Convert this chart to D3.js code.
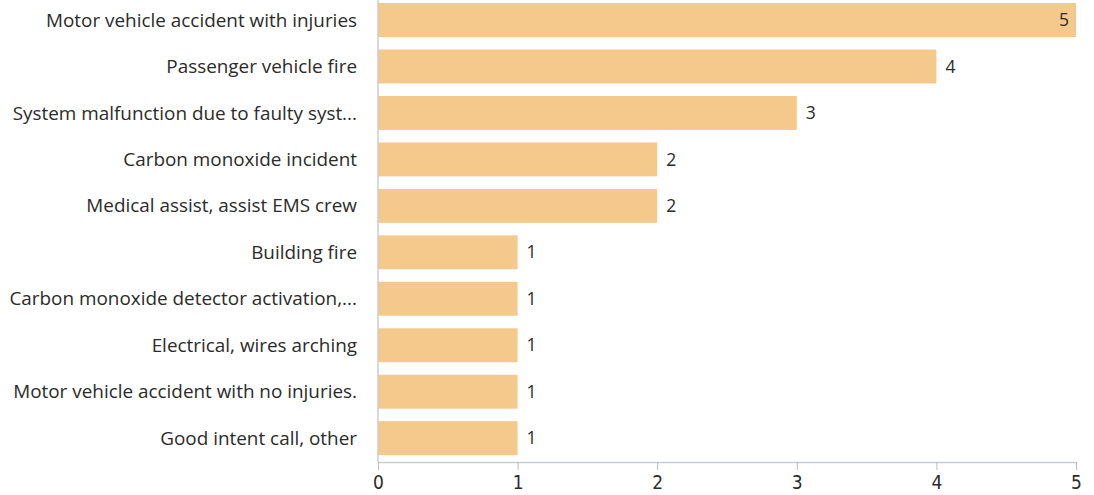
<!DOCTYPE html>
<html><head><meta charset="utf-8">
<script src="https://cdn.jsdelivr.net/npm/d3@7"></script>
<style>body{margin:0;background:#fff;} svg{display:block;}</style>
</head><body>
<svg id="c" width="1094" height="495"></svg>
<script>
const categories = ["Motor vehicle accident with injuries","Passenger vehicle fire","System malfunction due to faulty syst...","Carbon monoxide incident","Medical assist, assist EMS crew","Building fire","Carbon monoxide detector activation,...","Electrical, wires arching","Motor vehicle accident with no injuries.","Good intent call, other"];
const values = [5,4,3,2,2,1,1,1,1,1];
const xTicks = [0,1,2,3,4,5];

const svg = d3.select("#c");
const x = d3.scaleLinear().domain([0,5]).range([378,1076]);
const y = d3.scaleBand().domain(categories).range([-3.2,461.4]).paddingInner(0.27).paddingOuter(0.135);

svg.selectAll("rect.bar").data(values).join("rect")
  .attr("x", x(0)).attr("y", (d,i)=>y(categories[i]))
  .attr("width", d=>x(d)-x(0)).attr("height", y.bandwidth())
  .attr("fill","#f5c88b");

svg.append("line").attr("x1",x(0)).attr("x2",x(0)).attr("y1",0).attr("y2",462)
  .attr("stroke","#c8ccd4").attr("stroke-width",1.5);

svg.selectAll("text.cat").data(categories).join("text")
  .attr("x",357).attr("y",d=>y(d)+y.bandwidth()/2).attr("dy","0.35em")
  .attr("text-anchor","end").attr("font-family","Open Sans").attr("font-size",18.9)
  .attr("fill","#2b2b2b").text(d=>d);

svg.selectAll("text.val").data(values).join("text")
  .attr("x",(d,i)=> d===5 ? x(d)-7 : x(d)+9)
  .attr("y",(d,i)=>y(categories[i])+y.bandwidth()/2).attr("dy","0.35em")
  .attr("text-anchor",d=>d===5?"end":"start")
  .attr("font-family","Open Sans").attr("font-size",17.5)
  .attr("fill","#2b2b2b").text(d=>d);

const g = svg.append("g").attr("transform","translate(0,462)");
g.call(d3.axisBottom(x).tickValues(xTicks).tickSize(8).tickSizeOuter(0).tickFormat(d3.format("d")));
g.select(".domain").attr("stroke","#c8ccd4").attr("stroke-width",1.5);
g.selectAll(".tick line").attr("stroke","#b8bcc4");
g.selectAll(".tick text").attr("font-family","DejaVu Sans Condensed, DejaVu Sans").attr("font-stretch","condensed")
  .attr("font-size",19).attr("fill","#2b2b2b").attr("dy","0.82em");
</script>
</body></html>
